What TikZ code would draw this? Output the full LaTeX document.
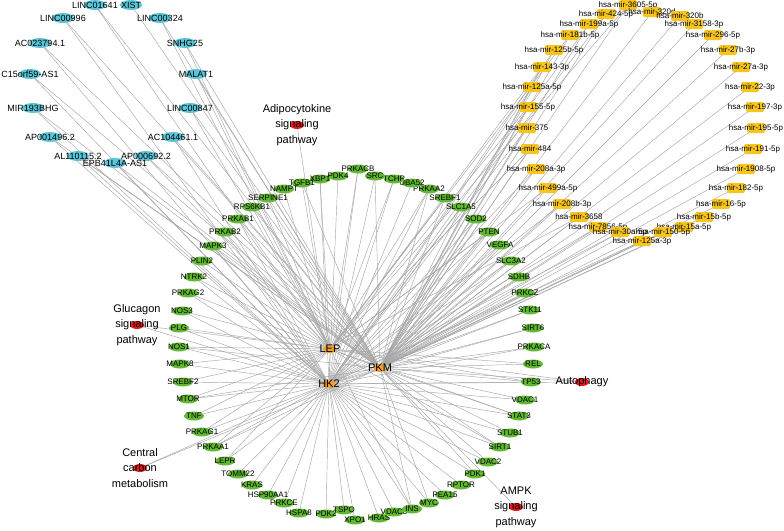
\documentclass[tikz,border=0pt]{standalone}
\usepackage{fontspec}
\setmainfont{Liberation Sans}
\usetikzlibrary{shapes.geometric,calc}
\definecolor{lncc}{HTML}{5CC5D8}
\definecolor{mirc}{HTML}{F7C51E}
\definecolor{genec}{HTML}{62B832}
\definecolor{hubc}{HTML}{F0A030}
\definecolor{pathc}{HTML}{E3191B}
\definecolor{edgec}{HTML}{A6A6A6}
\tikzset{
  edge/.style={draw=edgec, line width=0.45pt},
  lab8/.style={font=\fontsize{8}{9}\selectfont, inner sep=0pt, text=black},
  lab9/.style={font=\fontsize{9}{10}\selectfont, inner sep=0pt, text=black},
  lab11/.style={font=\fontsize{11}{15.5}\selectfont, inner sep=0pt, align=center, text=black},
}
\def\lncs{l1/95/5/LINC01641, l2/131/5/XIST, l3/63/18/LINC00996, l4/160/18/LINC00324,%
 l5/40/43/AC023794.1, l6/185/43/SNHG25, l7/30/74/C15orf59-AS1, l8/196/74/MALAT1,%
 l9/33/108/MIR193BHG, l10/190/108/LINC00847, l11/50/137/AP001496.2, l12/173/137/AC104461.1,%
 l13/78/156/AL110115.2, l14/146/156/AP000692.2, l15/115/163/EPB41L4A-AS1}
\def\mirs{m1/628/5/hsa-mir-3605-5p, m2/606/14/hsa-mir-424-5p, m3/652/12/hsa-mir-320d,%
 m4/680/16/hsa-mir-320b, m5/589/24/hsa-mir-199a-5p, m6/694/24/hsa-mir-3158-3p,%
 m7/570/35/hsa-mir-181b-5p, m8/713/35/hsa-mir-296-5p, m9/554/50/hsa-mir-125b-5p,%
 m10/728/50/hsa-mir-27b-3p, m11/542/67/hsa-mir-143-3p, m12/741/67/hsa-mir-27a-3p,%
 m13/532/87/hsa-mir-125a-5p, m14/750/87/hsa-mir-22-3p, m15/528/107/hsa-mir-155-5p,%
 m16/755/107/hsa-mir-197-3p, m17/527/128/hsa-mir-375, m18/756/128/hsa-mir-195-5p,%
 m19/530/149/hsa-mir-484, m20/753/149/hsa-mir-191-5p, m21/536/169/hsa-mir-208a-3p,%
 m22/746/169/hsa-mir-1908-5p, m23/548/188/hsa-mir-499a-5p, m24/736/188/hsa-mir-182-5p,%
 m25/562/204/hsa-mir-208b-3p, m26/721/204/hsa-mir-16-5p, m27/579/217/hsa-mir-3658,%
 m28/704/217/hsa-mir-15b-5p, m29/598/227/hsa-mir-7856-5p, m30/684/227/hsa-mir-15a-5p,%
 m31/620/232/hsa-mir-30a-5p, m32/663/232/hsa-mir-150-5p, m33/642/241/hsa-mir-125a-3p}
\def\genes{PRKACB/358/169, PDK4/338/176, XBP1/320/179, TGFB1/302/183, NAMPT/284/189,%
 SERPINE1/268/198, RPS6KB1/252/207, PRKAB1/238/219, PRKAB2/225/232, MAPK3/213/246,%
 PLIN2/202/261, NTRK2/194/277, PRKAG2/188/293, NOS3/182/311, PLG/179/328, NOS1/179/347,%
 MAPK8/180/364, SREBF2/183/382, MTOR/188/399, TNF/194/416, PRKAG1/202/432, PRKAA1/213/447,%
 LEPR/225/461, TOMM22/238/474, KRAS/252/485, HSP90AA1/268/495, PRKCE/284/503, HSPA8/299/513,%
 PDK2/326/514, TSPO/344/510, XPO1/355/520, HRAS/379/518, VDAC3/394/512, INS/412/509,%
 MYC/429/503, PEA15/445/495, RPTOR/461/485, PDK1/475/474, VDAC2/488/462, SIRT1/500/447,%
 STUB1/510/433, STAT3/519/416, VDAC1/525/400, TP53/531/382, REL/533/364, PRKACA/534/347,%
 SIRT6/533/328, STK11/530/310, PRKCZ/525/293, SDHB/519/277, SLC3A2/511/261, VEGFA/500/245,%
 PTEN/489/232, SOD2/476/219, SLC1A5/461/207, SREBF1/445/198, PRKAA2/429/189, UBA52/412/183,%
 TCHP/394/179, SRC/375/176}
\def\paths{adi/297/125/{Adipocytokine\\signaling\\pathway}, glu/137/325/{Glucagon\\signaling\\pathway},%
 cc/140/468/{Central\\carbon\\metabolism}, aut/582/382/{Autophagy}, ampk/516/507/{AMPK\\signaling\\pathway}}
\def\toP{l1, l2, l3, l4, l5, l6, l7, l8, l9, l10, l11, l12, l13, l14, l15,%
 m1, m2, m3, m4, m5, m6, m7, m8, m9, m10, m11, m12, m13, m14, m15, m16, m17, m18, m19, m20,%
 m21, m22, m23, m24, m25, m26, m27, m28, m29, m30, m31, m32, m33,%
 PTEN, VEGFA, SLC3A2, SDHB, PRKCZ, STK11, SIRT6, PRKACA, REL, TP53, VDAC1, STAT3, STUB1,%
 SIRT1, VDAC2, PDK1, MYC, INS, SRC, PRKAA2, SREBF1, SLC1A5, SOD2, TGFB1, MTOR, PRKAA1,%
 MAPK3, PRKAB1, SERPINE1, RPS6KB1, NOS1, cc, aut, ampk, LEP, HK2}
\def\toH{l3, l5, l7, l9, l11, l12, l13, l15, m2, m5, m9, m13, m17, m21, m25, m29, m31, m33,%
 PRKACB, PDK4, XBP1, SRC, TCHP, UBA52, PRKAA2, SLC1A5, SOD2, PTEN, VEGFA, SLC3A2, PRKCZ,%
 STK11, SIRT6, PRKACA, TP53, VDAC1, STAT3, STUB1, SIRT1, VDAC2, PDK1, RPTOR, PEA15, MYC,%
 INS, VDAC3, HRAS, XPO1, TSPO, PDK2, HSPA8, PRKCE, HSP90AA1, KRAS, TOMM22, LEPR, PRKAA1,%
 PRKAG1, TNF, MTOR, SREBF2, MAPK8, NOS1, PLG, NOS3, PRKAG2, NTRK2, MAPK3, PRKAB2, PRKAB1,%
 glu, cc, aut, LEP}
\def\toL{l1, l4, l6, l8, l10, l14, m1, m7, m11, m15, m19, m23, m27,%
 PRKACB, TGFB1, NAMPT, SERPINE1, RPS6KB1, PRKAB1, PRKAB2, MAPK3, PLIN2, NTRK2, PRKAG2,%
 NOS3, PLG, NOS1, MAPK8, SREBF2, MTOR, TNF, PRKAG1, PRKAA1, LEPR, INS, STAT3, SIRT1,%
 PRKAA2, SREBF1, XBP1, TCHP, PTEN, REL, TP53, adi, glu, aut}
\begin{document}
\begin{tikzpicture}[x=1pt,y=-1pt]
\useasboundingbox (0,0) rectangle (784,530);
% coordinates
\coordinate (LEP) at (330,349);
\coordinate (PKM) at (380,368);
\coordinate (HK2) at (329,384);
\foreach \n/\x/\y/\t in \lncs {\coordinate (\n) at (\x,\y);}
\foreach \n/\x/\y/\t in \mirs {\coordinate (\n) at (\x,\y);}
\foreach \n/\x/\y in \genes {\coordinate (\n) at (\x,\y);}
\foreach \n/\x/\y/\t in \paths {\coordinate (\n) at (\x,\y);}
% connectors
\foreach \a in \toP {\draw[edge] (PKM) -- (\a);}
\foreach \a in \toH {\draw[edge] (HK2) -- (\a);}
\foreach \a in \toL {\draw[edge] (LEP) -- (\a);}
% node shapes and labels
\foreach \n/\x/\y/\t in \lncs {
  \fill[lncc] (\n) ellipse (11pt and 5pt);
  \node[lab9] (\n-t) at (\n) {\t};
}
\foreach \n/\x/\y/\t in \mirs {
  \fill[mirc, rounded corners=2pt] ($(\n)+(-9,-5)$) rectangle ($(\n)+(9,5)$);
  \node[lab8] (\n-t) at (\n) {\t};
}
\foreach \n/\x/\y in \genes {
  \fill[genec] (\n) ellipse (10pt and 4.5pt);
  \node[lab8] (\n-t) at (\n) {\n};
}
\foreach \n/\x/\y/\t in \paths {
  \fill[pathc] (\n) ellipse (7pt and 4pt);
  \node[lab11] (\n-t) at (\n) {\t};
}
\foreach \n in {LEP,PKM,HK2} {
  \fill[hubc] (\n) ellipse (6.5pt and 4pt);
  \node[lab11] (\n-t) at (\n) {\n};
}
\end{tikzpicture}
\end{document}
